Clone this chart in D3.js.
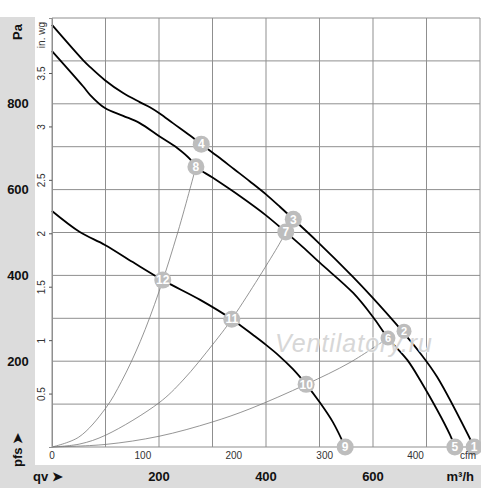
<!DOCTYPE html>
<html>
<head>
<meta charset="utf-8">
<script src="https://cdn.jsdelivr.net/npm/d3@7"></script>
<style>
  body { margin: 0; background: #fff; }
  svg { display: block; font-family: "Liberation Sans", Arial, sans-serif; }
  .grid line { stroke: #8f8f8f; stroke-width: 1; }
  .fan { fill: none; stroke: #000; stroke-width: 1.8; }
  .sys { fill: none; stroke: #7a7a7a; stroke-width: 0.8; }
  .lbl { font-weight: bold; font-size: 13px; fill: #111; }
  .small { font-size: 10px; fill: #333; }
</style>
</head>
<body>
<div id="chart"></div>
<script>
// fan curves, [m3/h, Pa]
var curveA = [[0,984],[58,902],[71,886],[99,855],[133,825],[164,804],[183,792],[202,777],[226,755],[258,726],[279,706],[310,677],[340,648],[370,619],[400,589],[426,560],[451,531],[495,480],[563,396],[600,347],[645,284],[688,219],[720,163],[789,0]];
var curveB = [[0,923],[58,841],[71,821],[99,790],[133,772],[164,755],[202,723],[234,697],[258,671],[269,653],[300,628],[351,585],[400,540],[437,501],[469,466],[501,429],[563,359],[600,303],[628,254],[664,203],[688,156],[744,28],[753,0]];
var curveC = [[0,550],[52,501],[99,471],[151,431],[207,389],[277,343],[336,298],[376,261],[400,238],[425,212],[450,182],[475,146],[500,105],[525,58],[548,0]];

// system curves
var sys1 = [[0,0],[50,23],[100,90],[130,153],[165,246],[200,362],[235,500],[258,602],[269,653]];
var sys2 = [[0,0],[52,7],[101,28],[200,103],[245,156],[301,240],[336,298],[421,465],[437,501]];
var sys3 = [[0,0],[100,6],[200,25],[299,58],[370,89],[475,146],[557,197],[628,254]];

// numbered points: label, m3/h, Pa
var points = [
  ["1",789,0],["2",658,270],["3",451,531],["4",279,706],
  ["5",753,0],["6",628,254],["7",437,501],["8",269,653],
  ["9",548,0],["10",475,146],["11",336,298],["12",207,389]
];

var qvTicks = [200,400,600];
var paTicks = [200,400,600,800];
var cfmTicks = [0,100,200,300,400];
var inwgTicks = [0.5,1,1.5,2,2.5,3,3.5];

var width = 500, height = 488;
var svg = d3.select("#chart").append("svg").attr("width", width).attr("height", height);

var x = d3.scaleLinear().domain([0, 800]).range([52, 480]);
var y = d3.scaleLinear().domain([0, 1000]).range([447, 18]);
var xCfm = d3.scaleLinear().domain([0, 800 / 1.699]).range([52, 480]);
var yIn = d3.scaleLinear().domain([0, 1000 / 249.089]).range([447, 18]);

// grey bands
svg.append("rect").attr("x", 0).attr("y", 17).attr("width", 35).attr("height", 471).attr("fill", "#dcdcdc");
svg.append("rect").attr("x", 0).attr("y", 465).attr("width", 481).attr("height", 23).attr("fill", "#dcdcdc");

// grid
var grid = svg.append("g").attr("class", "grid");
grid.selectAll(".vx").data(d3.range(0, 801, 100)).enter().append("line")
  .attr("x1", d => x(d)).attr("x2", d => x(d)).attr("y1", y(1000)).attr("y2", y(0));
grid.selectAll(".hy").data(d3.range(0, 1001, 100)).enter().append("line")
  .attr("x1", x(0)).attr("x2", x(800)).attr("y1", d => y(d)).attr("y2", d => y(d));

var line = d3.line().x(d => x(d[0])).y(d => y(d[1])).curve(d3.curveCatmullRom.alpha(0.5));

[sys1, sys2, sys3].forEach(function(s) {
  svg.append("path").datum(s).attr("class", "sys").attr("d", line);
});
[curveA, curveB, curveC].forEach(function(c) {
  svg.append("path").datum(c).attr("class", "fan").attr("d", line);
});

// watermark
svg.append("text").attr("x", 275).attr("y", 352)
  .attr("font-style", "italic").attr("font-size", 25).attr("textLength", 157)
  .attr("fill", "#d4d4d4").attr("stroke", "#fff").attr("stroke-width", 1.2)
  .attr("paint-order", "stroke").attr("opacity", 0.92).text("Ventilatory.ru");

// markers
svg.append("clipPath").attr("id", "clip").append("rect")
  .attr("x", 0).attr("y", 0).attr("width", 481).attr("height", height);
var mk = svg.append("g").attr("clip-path", "url(#clip)")
  .selectAll("g").data(points).enter().append("g")
  .attr("transform", d => "translate(" + x(d[1]) + "," + y(d[2]) + ")");
mk.append("circle").attr("r", d => (d[0] === "2" || d[0] === "6") ? 7.5 : 8.5).attr("fill", "#bdbdbd");
mk.append("text").attr("text-anchor", "middle").attr("dy", "0.36em")
  .attr("font-size", d => (d[0] === "2" || d[0] === "6") ? 11 : 12)
  .attr("font-weight", "bold").attr("fill", "#fff").text(d => d[0]);

// Pa labels
svg.selectAll(".pa").data(paTicks).enter().append("text").attr("class", "lbl")
  .attr("x", 18).attr("y", d => y(d)).attr("dy", "0.35em").attr("text-anchor", "middle").text(d => d);
svg.append("text").attr("class", "lbl").attr("transform", "translate(22,32) rotate(-90)")
  .attr("text-anchor", "middle").text("Pa");
svg.append("text").attr("class", "lbl").attr("transform", "translate(22,467) rotate(-90)")
  .attr("font-size", 12).text("pfs \u27A4");

// in. wg axis
var yAxis = d3.axisLeft(yIn).tickValues(inwgTicks).tickSize(3).tickFormat(d3.format(""));
var ga = svg.append("g").attr("transform", "translate(52,0)").call(yAxis);
ga.select(".domain").attr("stroke", "#8f8f8f");
ga.selectAll(".tick line").attr("stroke", "#555");
ga.selectAll(".tick text").attr("class", "small").attr("font-family", null).attr("font-size", null)
  .attr("transform", "rotate(-90)").attr("x", 0).attr("y", -7).attr("dy", 0).attr("text-anchor", "middle");
svg.append("text").attr("class", "small").attr("transform", "translate(45,22) rotate(-90)")
  .attr("text-anchor", "end").text("in. wg");

// cfm labels
svg.selectAll(".cfm").data(cfmTicks).enter().append("text").attr("class", "small")
  .attr("x", d => xCfm(d)).attr("y", 459).attr("text-anchor", "middle").text(d => d);
svg.append("text").attr("class", "small").attr("x", 468).attr("y", 459).attr("text-anchor", "middle").text("cfm");

// m3/h labels
svg.selectAll(".qv").data(qvTicks).enter().append("text").attr("class", "lbl")
  .attr("x", d => x(d)).attr("y", 481).attr("text-anchor", "middle").text(d => d);
svg.append("text").attr("class", "lbl").attr("x", 474).attr("y", 481).attr("text-anchor", "end").text("m\u00B3/h");
svg.append("text").attr("class", "lbl").attr("x", 33).attr("y", 481).text("qv \u27A4");
</script>
</body>
</html>
